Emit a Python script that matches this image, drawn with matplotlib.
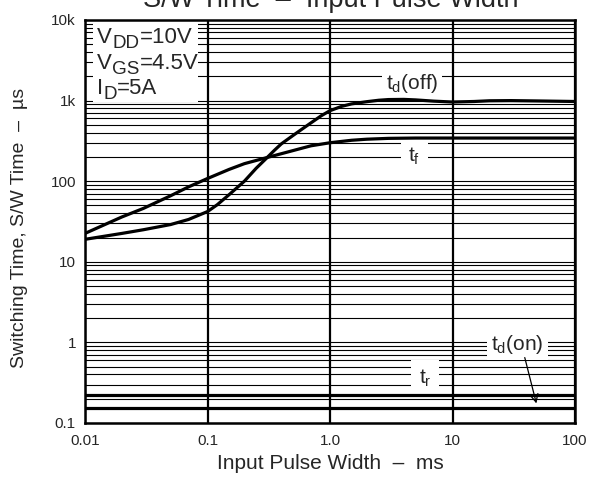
import numpy as np
import matplotlib
matplotlib.use('Agg')
import matplotlib.pyplot as plt
from matplotlib.patches import Rectangle
from matplotlib.ticker import LogLocator, NullFormatter, NullLocator

plt.rcParams['font.family'] = ['Liberation Sans', 'DejaVu Sans']
plt.rcParams['mathtext.fontset'] = 'custom'
plt.rcParams['mathtext.rm'] = 'Liberation Sans'
plt.rcParams['mathtext.it'] = 'Liberation Sans:italic'
plt.rcParams['mathtext.bf'] = 'Liberation Sans:bold'

# ---------------- data ----------------
pulse_width_ms = [0.01, 0.02, 0.03, 0.05, 0.07, 0.1, 0.12, 0.15, 0.2, 0.25, 0.3,
                  0.35, 0.4, 0.5, 0.6, 0.7, 0.85, 1.0, 1.25, 1.5, 2, 2.5, 3, 4, 5, 7,
                  10, 15, 20, 30, 50, 100]
td_off_us = [19, 22.5, 25, 29, 33.5, 42, 51, 68, 100, 145, 190,
             240, 290, 370, 450, 530, 650, 750, 850, 910, 970, 1010, 1030, 1035, 1020, 985,
             960, 975, 995, 1000, 990, 975]

pulse_width_tf_ms = [0.01, 0.02, 0.03, 0.05, 0.07, 0.1, 0.15, 0.2, 0.3, 0.5, 0.7,
                     1.0, 1.5, 2, 3, 5, 10, 20, 50, 100]
tf_us = [22.5, 36, 46, 66, 85, 108, 140, 165, 195, 240, 275,
         300, 322, 332, 340, 343, 343, 343, 343, 343]

tr_us = 0.22
td_on_us = 0.155

x_ticks = [0.01, 0.1, 1, 10, 100]
x_tick_labels = ['0.01', '0.1', '1.0', '10', '100']
y_ticks = [0.1, 1, 10, 100, 1000, 10000]
y_tick_labels = ['0.1', '1', '10', '100', '1k', '10k']

# condition lines: (main, subscript, rest)
conditions = [('V', 'DD', '=10V'), ('V', 'GS', '=4.5V'), ('I', 'D', '=5A')]

TXT = '#262626'

fig = plt.figure(figsize=(5.96, 4.78), dpi=100)
W, H = 596, 478
L, R, T, B = 85, 575, 20, 423
ax = fig.add_axes([L / W, 1 - B / H, (R - L) / W, (B - T) / H])

ax.set_xscale('log')
ax.set_yscale('log')
ax.set_xlim(0.01, 100)
ax.set_ylim(0.1, 10000)

ax.set_xticks(x_ticks, x_tick_labels)
ax.set_yticks(y_ticks, y_tick_labels)
ax.xaxis.set_minor_locator(NullLocator())
ax.yaxis.set_minor_locator(LogLocator(base=10, subs=np.arange(2, 10), numticks=50))
ax.yaxis.set_minor_formatter(NullFormatter())
ax.tick_params(which='both', length=0, labelsize=11, labelcolor=TXT)
ax.tick_params(axis='x', pad=8)
ax.tick_params(axis='y', pad=6.5)

ax.set_axisbelow(True)
ax.grid(True, which='both', axis='y', color='black', lw=0.8)
ax.grid(True, which='major', axis='x', color='black', lw=1.6)
for s in ax.spines.values():
    s.set_linewidth(1.8)
    s.set_color('black')
    s.set_zorder(6)

# curves
ax.plot(pulse_width_ms, td_off_us, color='black', lw=2.3, zorder=4,
        solid_capstyle='butt', solid_joinstyle='round')
ax.plot(pulse_width_tf_ms, tf_us, color='black', lw=2.3, zorder=4,
        solid_capstyle='butt', solid_joinstyle='round')
ax.axhline(tr_us, color='black', lw=2.3, zorder=4)
ax.axhline(td_on_us, color='black', lw=2.3, zorder=4)

# curve labels
box = dict(boxstyle='square,pad=0.2', facecolor='white', edgecolor='none')
box_wide = dict(boxstyle='square,pad=0.35', facecolor='white', edgecolor='none')
ax.text(4.67, 1650, 't$_{\\mathrm{d}}$(off)', fontsize=15, color=TXT, ha='center', va='center', bbox=box, zorder=3)
ax.text(4.9, 205, 't$_{\\mathrm{f}}$', fontsize=15, color=TXT, ha='center', va='center', bbox=box_wide, zorder=3)
ax.text(5.97, 0.36, 't$_{\\mathrm{r}}$', fontsize=15, color=TXT, ha='center', va='center', bbox=box_wide, zorder=3)
ax.text(33.7, 0.95, 't$_{\\mathrm{d}}$(on)', fontsize=15, color=TXT, ha='center', va='center', bbox=box, zorder=3)
ax.annotate('', xy=(49, 0.162), xytext=(38.4, 0.70),
            arrowprops=dict(arrowstyle='->', lw=0.9, color='black', mutation_scale=14), zorder=5)

# condition box
def ax_y(ypx):
    return (B - ypx) / (B - T)

def ax_x(xpx):
    return (xpx - L) / (R - L)

ax.add_patch(Rectangle((ax_x(93), ax_y(102)), ax_x(198) - ax_x(93), ax_y(22) - ax_y(102),
                       transform=ax.transAxes, facecolor='white', edgecolor='none', zorder=2))
fs_c = 16
for (main, sub, rest), ypx in zip(conditions, [43, 69, 94]):
    t1 = ax.text(ax_x(97), ax_y(ypx), main, transform=ax.transAxes, fontsize=fs_c, color=TXT,
                 ha='left', va='baseline', zorder=3)
    t2 = ax.annotate(sub, xy=(1, 0), xycoords=(t1, t1), xytext=(0.3, -3.2), textcoords='offset points',
                     fontsize=fs_c * 0.85, color=TXT, ha='left', va='bottom', zorder=3)
    ax.annotate(rest, xy=(1, 0), xycoords=(t2, t1), xytext=(0.2, 0), textcoords='offset points',
                fontsize=fs_c, color=TXT, ha='left', va='bottom', zorder=3)

# labels
ax.set_xlabel('Input Pulse Width  –  ms', fontsize=15, color=TXT)
ax.xaxis.set_label_coords(0.5, -(454 - B) / (B - T))
ax.set_ylabel('Switching Time, S/W Time  –  µs', fontsize=14, color=TXT)
ax.yaxis.set_label_coords(-(L - 28) / (R - L), (B - 228) / (B - T))

fig.text(331 / W, 1 - 7 / H, 'S/W Time  –  Input Pulse Width', fontsize=19.5, color=TXT,
         ha='center', va='baseline')

fig.savefig('out.png', dpi=100)
